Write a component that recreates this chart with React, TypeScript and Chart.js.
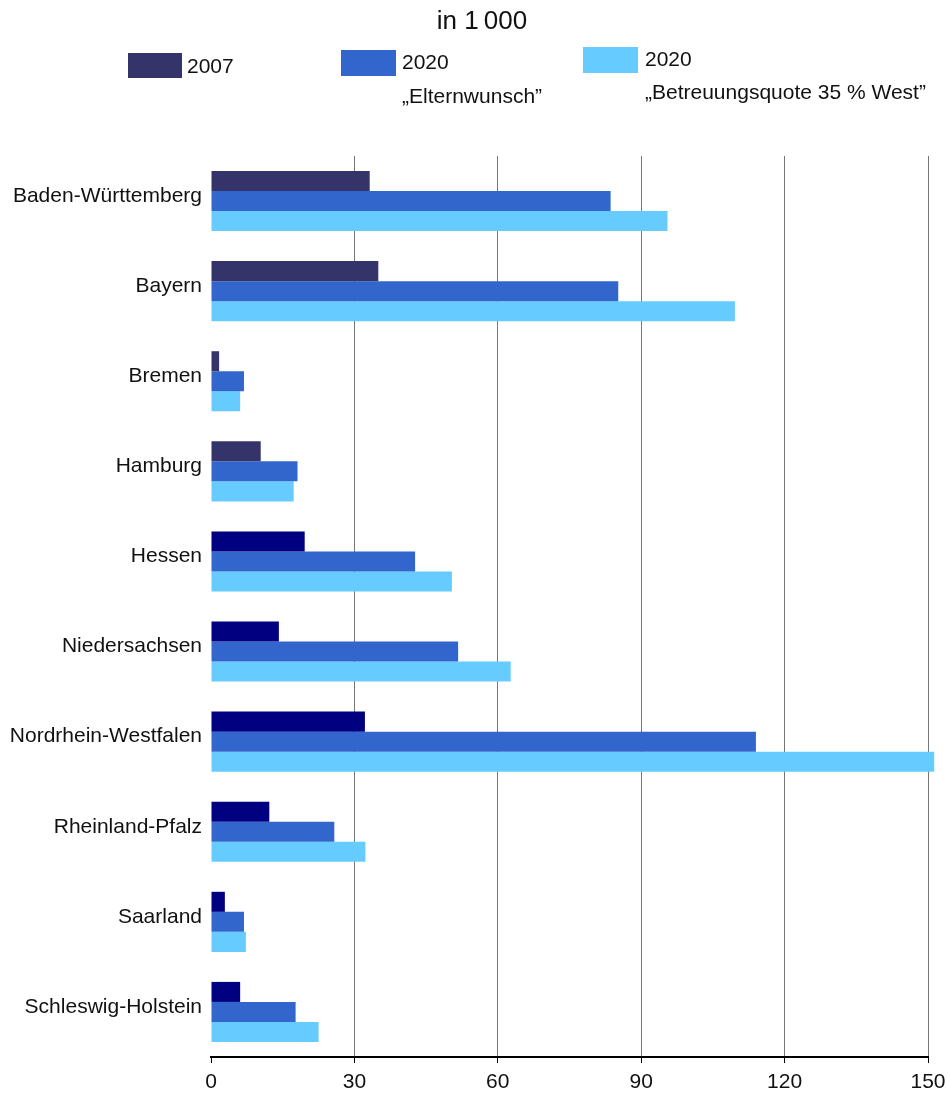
import React, { useEffect, useRef } from 'react';
import { Chart, registerables } from 'chart.js';

Chart.register(...registerables);

const categories = [
  'Baden-Württemberg',
  'Bayern',
  'Bremen',
  'Hamburg',
  'Hessen',
  'Niedersachsen',
  'Nordrhein-Westfalen',
  'Rheinland-Pfalz',
  'Saarland',
  'Schleswig-Holstein',
];
const values2007 = [33.2, 35.0, 1.7, 10.4, 19.6, 14.2, 32.2, 12.2, 2.9, 6.1];
const values2020Eltern = [83.6, 85.2, 6.9, 18.1, 42.7, 51.7, 114.0, 25.8, 6.9, 17.7];
const values2020Quote = [95.5, 109.6, 6.1, 17.3, 50.4, 62.7, 151.3, 32.3, 7.3, 22.5];
const seriesLabels = ['2007', '2020 „Elternwunsch”', '2020 „Betreuungsquote 35 % West”'];
const legendLines = [['2007'], ['2020', '„Elternwunsch”'], ['2020', '„Betreuungsquote 35 % West”']];
const xTicks = [0, 30, 60, 90, 120, 150];
const titleText = 'in 1\u2009000';

const FONT = '"Liberation Sans", Arial, Helvetica, sans-serif';
const TEXT = '#111111';
const colors2007 = categories.map((_, i) => (i < 4 ? '#34346A' : '#000080'));
const colorEltern = '#3366CC';
const colorQuote = '#66CCFF';

const legendLayout = [
  { box: [128, 53, 54, 25], x: 187, ys: [67] },
  { box: [341, 50, 55, 26], x: 402, ys: [63, 97] },
  { box: [583, 47, 55, 26], x: 645, ys: [60, 93] },
];

const headerPlugin = {
  id: 'header',
  afterDraw(chart: any) {
    const ctx = chart.ctx;
    ctx.save();
    ctx.fillStyle = TEXT;
    ctx.textBaseline = 'middle';
    ctx.textAlign = 'center';
    ctx.font = `26px ${FONT}`;
    ctx.fillText(titleText, 482, 22);
    ctx.textAlign = 'left';
    ctx.font = `21px ${FONT}`;
    chart.data.datasets.forEach((ds: any, i: number) => {
      const L = legendLayout[i];
      const c = Array.isArray(ds.backgroundColor) ? ds.backgroundColor[0] : ds.backgroundColor;
      ctx.fillStyle = c;
      ctx.fillRect(L.box[0], L.box[1], L.box[2], L.box[3]);
      ctx.fillStyle = TEXT;
      legendLines[i].forEach((line, j) => {
        ctx.fillText(line, L.x, L.ys[j]);
      });
    });
    ctx.restore();
  },
};

export default function App() {
  const ref = useRef<HTMLCanvasElement>(null);
  useEffect(() => {
    document.body.style.margin = '0';
    document.body.style.overflow = 'hidden';
    const canvas = ref.current;
    if (!canvas) return;
    const chart = new Chart(canvas, {
      type: 'bar',
      data: {
        labels: categories,
        datasets: [
          { label: seriesLabels[0], data: values2007, backgroundColor: colors2007, clip: false },
          { label: seriesLabels[1], data: values2020Eltern, backgroundColor: colorEltern, clip: false },
          { label: seriesLabels[2], data: values2020Quote, backgroundColor: colorQuote, clip: false },
        ] as any,
      },
      options: {
        indexAxis: 'y',
        animation: false,
        responsive: false,
        devicePixelRatio: 1,
        categoryPercentage: 0.667,
        barPercentage: 1.0,
        layout: { padding: { top: 156, right: 19, bottom: 0, left: 0 } },
        plugins: {
          legend: { display: false },
          title: { display: false },
          tooltip: { enabled: false },
        },
        scales: {
          x: {
            type: 'linear',
            min: 0,
            max: 150,
            afterBuildTicks: (scale: any) => {
              scale.ticks = xTicks.map((v) => ({ value: v }));
            },
            afterFit: (scale: any) => {
              scale.height = 38;
              scale.paddingLeft = 0;
              scale.paddingRight = 0;
            },
            grid: {
              color: (c: any) => (c.tick && c.tick.value === 0 ? 'rgba(0,0,0,0)' : '#767676'),
              lineWidth: 1,
              tickColor: '#000000',
              tickLength: 6,
              drawTicks: true,
            },
            border: { display: true, color: '#000000', width: 2 },
            ticks: {
              color: TEXT,
              font: { family: FONT, size: 21 },
              padding: 7,
              maxRotation: 0,
            },
          },
          y: {
            type: 'category',
            afterFit: (scale: any) => {
              scale.width = 211;
            },
            grid: { display: false, drawTicks: false, tickLength: 0 },
            border: { display: false },
            ticks: {
              color: TEXT,
              font: { family: FONT, size: 21 },
              padding: 9,
              labelOffset: -5,
            },
          },
        },
      } as any,
      plugins: [headerPlugin],
    });
    return () => chart.destroy();
  }, []);
  return <canvas ref={ref} width={947} height={1095} style={{ display: 'block' }} />;
}
